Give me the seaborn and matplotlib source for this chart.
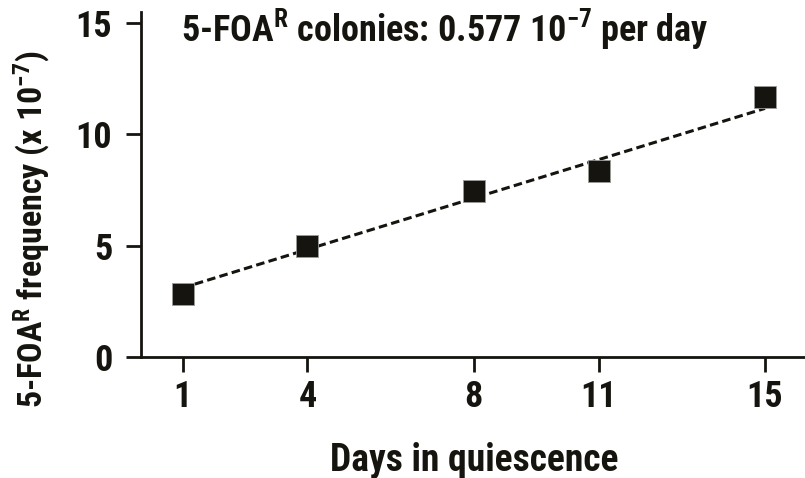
import numpy as np
import pandas as pd
import matplotlib
matplotlib.use("Agg")
import matplotlib.pyplot as plt
import seaborn as sns
from matplotlib import font_manager

# values
days = [1, 4, 8, 11, 15]
foa_freq = [2.81, 4.97, 7.47, 8.37, 11.67]
fit_slope = 0.577      # x 10^-7 per day, as given in the panel text
fit_intercept = 2.52
x_ticks = [1, 4, 8, 11, 15]
y_ticks = [0, 5, 10, 15]

sns.set_theme(style="ticks")

installed = {f.name for f in font_manager.fontManager.ttflist}
font = "DejaVu Sans"
for name in ["Liberation Sans Narrow", "Roboto Condensed", "Liberation Sans"]:
    if name in installed:
        font = name
        break

plt.rcParams["font.family"] = [font, "DejaVu Sans"]
plt.rcParams["font.weight"] = "bold"
plt.rcParams["mathtext.fontset"] = "custom"
plt.rcParams["mathtext.rm"] = f"{font}:bold"
plt.rcParams["mathtext.bf"] = f"{font}:bold"
plt.rcParams["mathtext.it"] = f"{font}:bold"
plt.rcParams["axes.unicode_minus"] = False

ink = "#16140f"
fs = 26

df = pd.DataFrame({"day": days, "freq": foa_freq})
fit = pd.DataFrame({"day": [days[0], days[-1]]})
fit["freq"] = fit_intercept + fit_slope * fit["day"]

fig = plt.figure(figsize=(8.05, 4.78), dpi=100)
ax = fig.add_axes([0.1752, 0.2538, 0.8268, 0.7205])

sns.lineplot(data=fit, x="day", y="freq", ax=ax, color=ink, lw=2.2,
             dashes=False, zorder=2)
ax.lines[-1].set_dashes((2.8, 1.4))
sns.scatterplot(data=df, x="day", y="freq", ax=ax, marker="s", s=265,
                color=ink, edgecolor="#9a9a9a", linewidth=0.6, zorder=3)

ax.set_xlim(0, 16)
ax.set_ylim(0, 15.5)
ax.set_xticks(x_ticks)
ax.set_yticks(y_ticks)
ax.tick_params(axis="both", length=10.8, width=2, color=ink,
               labelsize=fs, labelcolor=ink)
ax.tick_params(axis="y", pad=10)
ax.tick_params(axis="x", pad=5)
for lab in ax.get_xticklabels() + ax.get_yticklabels():
    lab.set_fontweight("bold")

sns.despine(ax=ax)
for sp in ["left", "bottom"]:
    ax.spines[sp].set_linewidth(2)
    ax.spines[sp].set_color(ink)

ax.set_xlabel("Days in quiescence", fontsize=27, fontweight="bold",
              color=ink, labelpad=20)
ax.set_ylabel(r"5-FOA$^{\mathrm{R}}$ frequency (x 10$^{\mathrm{-7}}$)",
              fontsize=24.5, fontweight="bold", color=ink)
ax.yaxis.set_label_coords(-0.134, 0.37)
ax.text(0.95, 14.75, r"5-FOA$^{\mathrm{R}}$ colonies: 0.577 10$^{\mathrm{-7}}$ per day",
        fontsize=fs, fontweight="bold", color=ink, va="center", ha="left")

fig.savefig("out.png", dpi=100, facecolor="white")
